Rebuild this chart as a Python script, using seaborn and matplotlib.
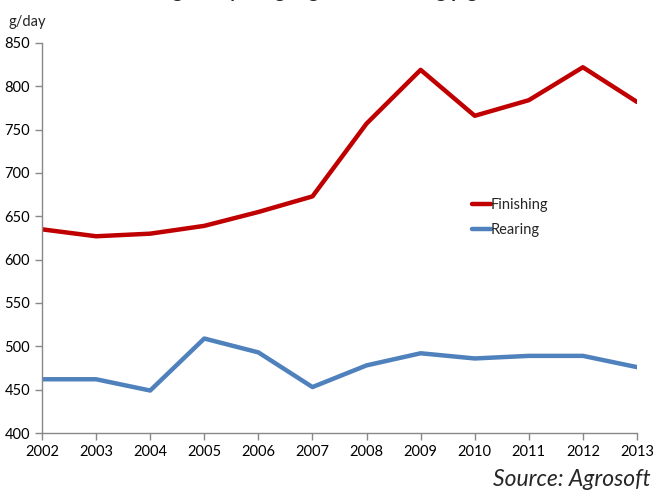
import numpy as np
import pandas as pd
import seaborn as sns
import matplotlib.pyplot as plt

# Datos
# ==============================================================================
years = [2002, 2003, 2004, 2005, 2006, 2007, 2008, 2009, 2010, 2011, 2012, 2013]
finishing = [635, 627, 630, 639, 655, 673, 757, 819, 766, 784, 822, 782]
rearing = [462, 462, 449, 509, 493, 453, 478, 492, 486, 489, 489, 476]
series_names = ["Finishing", "Rearing"]
series_colors = ["#C00000", "#4F81BD"]

df = pd.DataFrame({"year": years * 2,
                   "value": finishing + rearing,
                   "serie": [series_names[0]] * len(years) + [series_names[1]] * len(years)})

# Gráfico
# ==============================================================================
sns.set_style("white")
plt.rcParams['font.family'] = ['Lato', 'DejaVu Sans']

fig = plt.figure(figsize=(6.67, 4.93), dpi=100)
ax = fig.add_axes([0.063, 0.1217, 0.892, 0.7911])

sns.lineplot(data=df, x="year", y="value", hue="serie", palette=series_colors,
             linewidth=3.2, ax=ax)

ax.set_xlim(2002, 2013)
ax.set_ylim(400, 850)
ax.set_xticks(years)
ax.set_yticks(range(400, 851, 50))
ax.set_xlabel("")
ax.set_ylabel("")
ax.tick_params(axis="both", labelsize=10.5, colors="#888888", labelcolor="black",
               length=5, width=1, direction="out", bottom=True, left=True)
for s in ["top", "right"]:
    ax.spines[s].set_visible(False)
for s in ["left", "bottom"]:
    ax.spines[s].set_color("#888888")
    ax.spines[s].set_linewidth(1)

leg = ax.legend(loc="upper left", bbox_to_anchor=(0.70, 0.635), frameon=False,
                fontsize=10.5, handlelength=1.3, handletextpad=0.0,
                labelspacing=0.7)

fig.text(0.0135 + 0.055 / 2, 0.955, "g/day", fontsize=10.5, ha="center", va="center")
# el título queda cortado arriba, como en la original
fig.text(0.455, 1.004, "Average daily weight gain of finishing pigs", fontsize=14,
         fontweight="bold", ha="center", va="baseline")
fig.text(0.975, 0.006, "Source: Agrosoft", fontsize=16.5, style="italic",
         ha="right", va="bottom")

fig.savefig("out.png", dpi=100)
